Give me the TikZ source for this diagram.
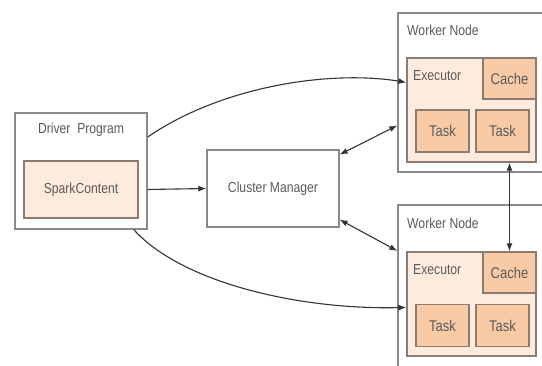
\documentclass[tikz,border=0pt]{standalone}
\usepackage{fontspec}
\setmainfont{Liberation Sans}[FakeStretch=0.84]
\usepackage{tikz}
\usetikzlibrary{arrows.meta}
\definecolor{boxline}{HTML}{8A8A8A}
\definecolor{execline}{HTML}{8C7B70}
\definecolor{execfill}{HTML}{FDEBDD}
\definecolor{taskfill}{HTML}{F8CBA6}
\definecolor{txtgrey}{HTML}{5A5A5A}
\newcommand{\tipsize}{Latex[length=8pt,width=6pt]}

\begin{document}
\begin{tikzpicture}[x=1pt,y=-1pt]
\tikzstyle{every node}=[text=txtgrey,font=\fontsize{14.5}{16}\selectfont,inner sep=0pt]
\tikzstyle{outerbox}=[draw=boxline,line width=1.3pt,fill=white,rectangle]
\tikzstyle{execbox}=[draw=execline,line width=1.3pt,fill=execfill,rectangle]
\tikzstyle{taskbox}=[draw=execline,line width=1.3pt,fill=taskfill,rectangle,minimum width=53pt,minimum height=42pt,font=\fontsize{15.5}{17}\selectfont]
\tikzstyle{link}=[draw=black!80,line width=1.1pt]
\useasboundingbox (0,0) rectangle (542,365);
\clip (0,0) rectangle (542,365);
% driver side
\node[outerbox,minimum width=132pt,minimum height=116pt] (driver) at (81,171) {};
\node (drivertitle) at (81,130) {Driver\ \ Program};
\node[execbox,minimum width=114pt,minimum height=57pt] (spark) at (81,189.5) {SparkContent};
\node[outerbox,minimum width=132pt,minimum height=77pt] (cluster) at (273,188.5) {Cluster Manager};
% upper worker
\node[outerbox,minimum width=162pt,minimum height=159pt] (worker1) at (479,92.5) {};
\node[anchor=west] (worker1title) at (407,30) {Worker Node};
\node[execbox,minimum width=129pt,minimum height=104pt] (exec1) at (471.5,110) {};
\node[anchor=west] (exec1title) at (413,76) {Executor};
\node[taskbox,minimum height=41pt] (cache1) at (509.5,78.5) {Cache};
\node[taskbox] (task1a) at (442.5,131) {Task};
\node[taskbox] (task1b) at (502.5,131) {Task};
% lower worker
\node[outerbox,minimum width=162pt,minimum height=175pt] (worker2) at (479,292.5) {};
\node[anchor=west] (worker2title) at (407,223) {Worker Node};
\node[execbox,minimum width=129pt,minimum height=104pt] (exec2) at (471.5,304) {};
\node[anchor=west] (exec2title) at (413,270) {Executor};
\node[taskbox,minimum height=41pt] (cache2) at (509.5,272.5) {Cache};
\node[taskbox] (task2a) at (442.5,325.5) {Task};
\node[taskbox] (task2b) at (502.5,325.5) {Task};
% connectors
\path[link,-{\tipsize}] (spark.east -| driver.east) -- (cluster.west);
\path[link,-{\tipsize}] (driver.27) .. controls (222,86) and (330,70) .. (exec1.157);
\path[link,-{\tipsize}] (driver.-48) .. controls (182,283) and (300,310) .. (exec2.183);
\path[link,{\tipsize}-{\tipsize}] (cluster.27) -- (worker1.202);
\path[link,{\tipsize}-{\tipsize}] (cluster.-25.5) -- (worker2.153);
\path[link,{\tipsize}-{\tipsize}] (exec1.south -| cache2.north) -- (cache2.north);
\end{tikzpicture}
\end{document}
